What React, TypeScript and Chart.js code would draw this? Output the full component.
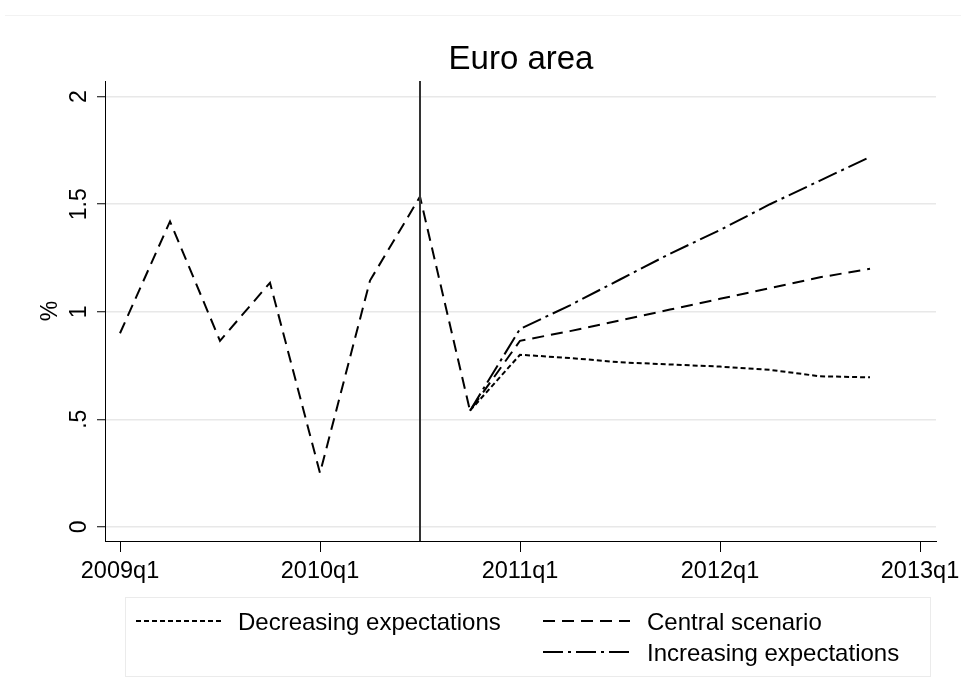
import React, { useEffect, useRef } from 'react';
import { Chart, registerables } from 'chart.js';

Chart.register(...registerables);

const quarterLabels = [
  '2009q1', '2009q2', '2009q3', '2009q4',
  '2010q1', '2010q2', '2010q3', '2010q4',
  '2011q1', '2011q2', '2011q3', '2011q4',
  '2012q1', '2012q2', '2012q3', '2012q4',
  '2013q1',
];
const xTickQuarters = ['2009q1', '2010q1', '2011q1', '2012q1', '2013q1'];

// history (2009q1-2010q4) followed by central scenario (2011q1-2012q4)
const centralValues = [0.90, 1.42, 0.865, 1.135, 0.25, 1.145, 1.535, 0.54, 0.865, 0.91, 0.96, 1.01, 1.06, 1.11, 1.16, 1.20];
// scenarios starting at 2010q4
const scenarioStart = '2010q4';
const decreasingValues = [0.54, 0.80, 0.785, 0.765, 0.755, 0.745, 0.73, 0.70, 0.695];
const increasingValues = [0.54, 0.92, 1.03, 1.15, 1.27, 1.38, 1.50, 1.61, 1.72];

const markerQuarter = '2010q3';
const yTickValues = [0, 0.5, 1, 1.5, 2];
const yTickLabels = ['0', '.5', '1', '1.5', '2'];

const titleText = 'Euro area';
const yTitle = '%';
const legendNames = ['Decreasing expectations', 'Central scenario', 'Increasing expectations'];

const FONT = '"Liberation Sans", Arial, Helvetica, sans-serif';
const Y_MIN = -0.066;
const Y_MAX = 2.073;

const DASH_DEC = [5, 3];
const DASH_CEN = [12, 7];
const DASH_INC = [20, 5, 3, 5];

export default function App() {
  const ref = useRef<HTMLCanvasElement | null>(null);

  useEffect(() => {
    document.body.style.margin = '0';
    const canvas = ref.current;
    if (!canvas) return;

    const startIdx = quarterLabels.indexOf(scenarioStart);
    const markIdx = quarterLabels.indexOf(markerQuarter);

    const decData = decreasingValues.map((v, i) => ({ x: startIdx + i, y: v }));
    const cenData = centralValues.map((v, i) => ({ x: i, y: v }));
    const incData = increasingValues.map((v, i) => ({ x: startIdx + i, y: v }));

    const overlay = {
      id: 'overlay',
      afterDraw(chart: any) {
        const ctx = chart.ctx as CanvasRenderingContext2D;
        const ys = chart.scales.y;
        const area = chart.chartArea;
        ctx.save();
        // faint outer border
        ctx.strokeStyle = '#f2f2f2';
        ctx.lineWidth = 1;
        ctx.beginPath();
        ctx.moveTo(5, 15.5);
        ctx.lineTo(961, 15.5);
        ctx.stroke();

        // title
        ctx.fillStyle = '#000';
        ctx.font = `33px ${FONT}`;
        ctx.textAlign = 'center';
        ctx.textBaseline = 'alphabetic';
        ctx.fillText(titleText, 521, 69);

        // y tick labels rotated
        ctx.font = `23px ${FONT}`;
        yTickValues.forEach((v, i) => {
          const py = ys.getPixelForValue(v);
          ctx.save();
          ctx.translate(86, py);
          ctx.rotate(-Math.PI / 2);
          ctx.textAlign = 'center';
          ctx.fillText(yTickLabels[i], 0, 0);
          ctx.restore();
        });
        // y title
        ctx.save();
        ctx.translate(57, (area.top + area.bottom) / 2);
        ctx.rotate(-Math.PI / 2);
        ctx.textAlign = 'center';
        ctx.fillText(yTitle, 0, 0);
        ctx.restore();

        // legend
        ctx.font = `24px ${FONT}`;
        ctx.strokeStyle = '#ebebeb';
        ctx.lineWidth = 1;
        ctx.strokeRect(125.5, 597.5, 805, 79);
        const items = [
          { name: legendNames[0], dash: DASH_DEC, x0: 136, x1: 221, tx: 238, y: 621 },
          { name: legendNames[1], dash: DASH_CEN, x0: 543, x1: 630, tx: 647, y: 621 },
          { name: legendNames[2], dash: DASH_INC, x0: 543, x1: 630, tx: 647, y: 652 },
        ];
        items.forEach((it) => {
          ctx.save();
          ctx.strokeStyle = '#000';
          ctx.lineWidth = 2;
          ctx.setLineDash(it.dash);
          ctx.beginPath();
          ctx.moveTo(it.x0, it.y);
          ctx.lineTo(it.x1, it.y);
          ctx.stroke();
          ctx.restore();
          ctx.fillStyle = '#000';
          ctx.textAlign = 'left';
          ctx.textBaseline = 'alphabetic';
          ctx.fillText(it.name, it.tx, it.y + 8.5);
        });
        ctx.restore();
      },
    };

    const common = {
      borderColor: '#000',
      borderWidth: 2,
      pointRadius: 0,
      fill: false,
      tension: 0,
    };

    const chart = new Chart(canvas, {
      type: 'line',
      data: {
        datasets: [
          { ...common, label: 'marker', data: [{ x: markIdx, y: Y_MIN }, { x: markIdx, y: Y_MAX }], borderColor: '#333', borderWidth: 2 },
          { ...common, label: legendNames[0], data: decData, borderDash: DASH_DEC },
          { ...common, label: legendNames[1], data: cenData, borderDash: DASH_CEN },
          { ...common, label: legendNames[2], data: incData, borderDash: DASH_INC },
        ],
      },
      options: {
        animation: false,
        responsive: false,
        layout: { padding: { top: 81, right: 25, left: 0, bottom: 0 } },
        plugins: {
          legend: { display: false },
          title: { display: false },
          tooltip: { enabled: false },
        },
        scales: {
          x: {
            type: 'linear',
            min: -0.3,
            max: 16.32,
            afterBuildTicks: (s: any) => {
              s.ticks = xTickQuarters.map((q) => ({ value: quarterLabels.indexOf(q) }));
            },
            afterFit: (s: any) => {
              s.height = 159;
              s.paddingLeft = 0;
              s.paddingRight = 0;
            },
            ticks: {
              autoSkip: false,
              maxRotation: 0,
              minRotation: 0,
              padding: 5,
              color: '#000',
              font: { family: FONT, size: 23.5 },
              callback: (v: any) => quarterLabels[Number(v)] ?? '',
            },
            grid: {
              drawOnChartArea: false,
              drawTicks: true,
              tickLength: 11,
              tickColor: '#000',
              tickWidth: 1,
            },
            border: { color: '#000', width: 1 },
          },
          y: {
            type: 'linear',
            min: Y_MIN,
            max: Y_MAX,
            afterBuildTicks: (s: any) => {
              s.ticks = yTickValues.map((v) => ({ value: v }));
            },
            afterFit: (s: any) => {
              s.width = 105;
              s.paddingTop = 0;
              s.paddingBottom = 0;
            },
            ticks: { display: false },
            grid: {
              color: '#e8e8e8',
              lineWidth: 1.5,
              drawTicks: true,
              tickLength: 8,
              tickColor: '#000',
              tickWidth: 1,
            },
            border: { color: '#000', width: 1 },
          },
        },
      },
      plugins: [overlay],
    } as any);

    return () => chart.destroy();
  }, []);

  return (
    <div style={{ width: 961, height: 700, background: '#fff' }}>
      <canvas ref={ref} width={961} height={700} />
    </div>
  );
}
